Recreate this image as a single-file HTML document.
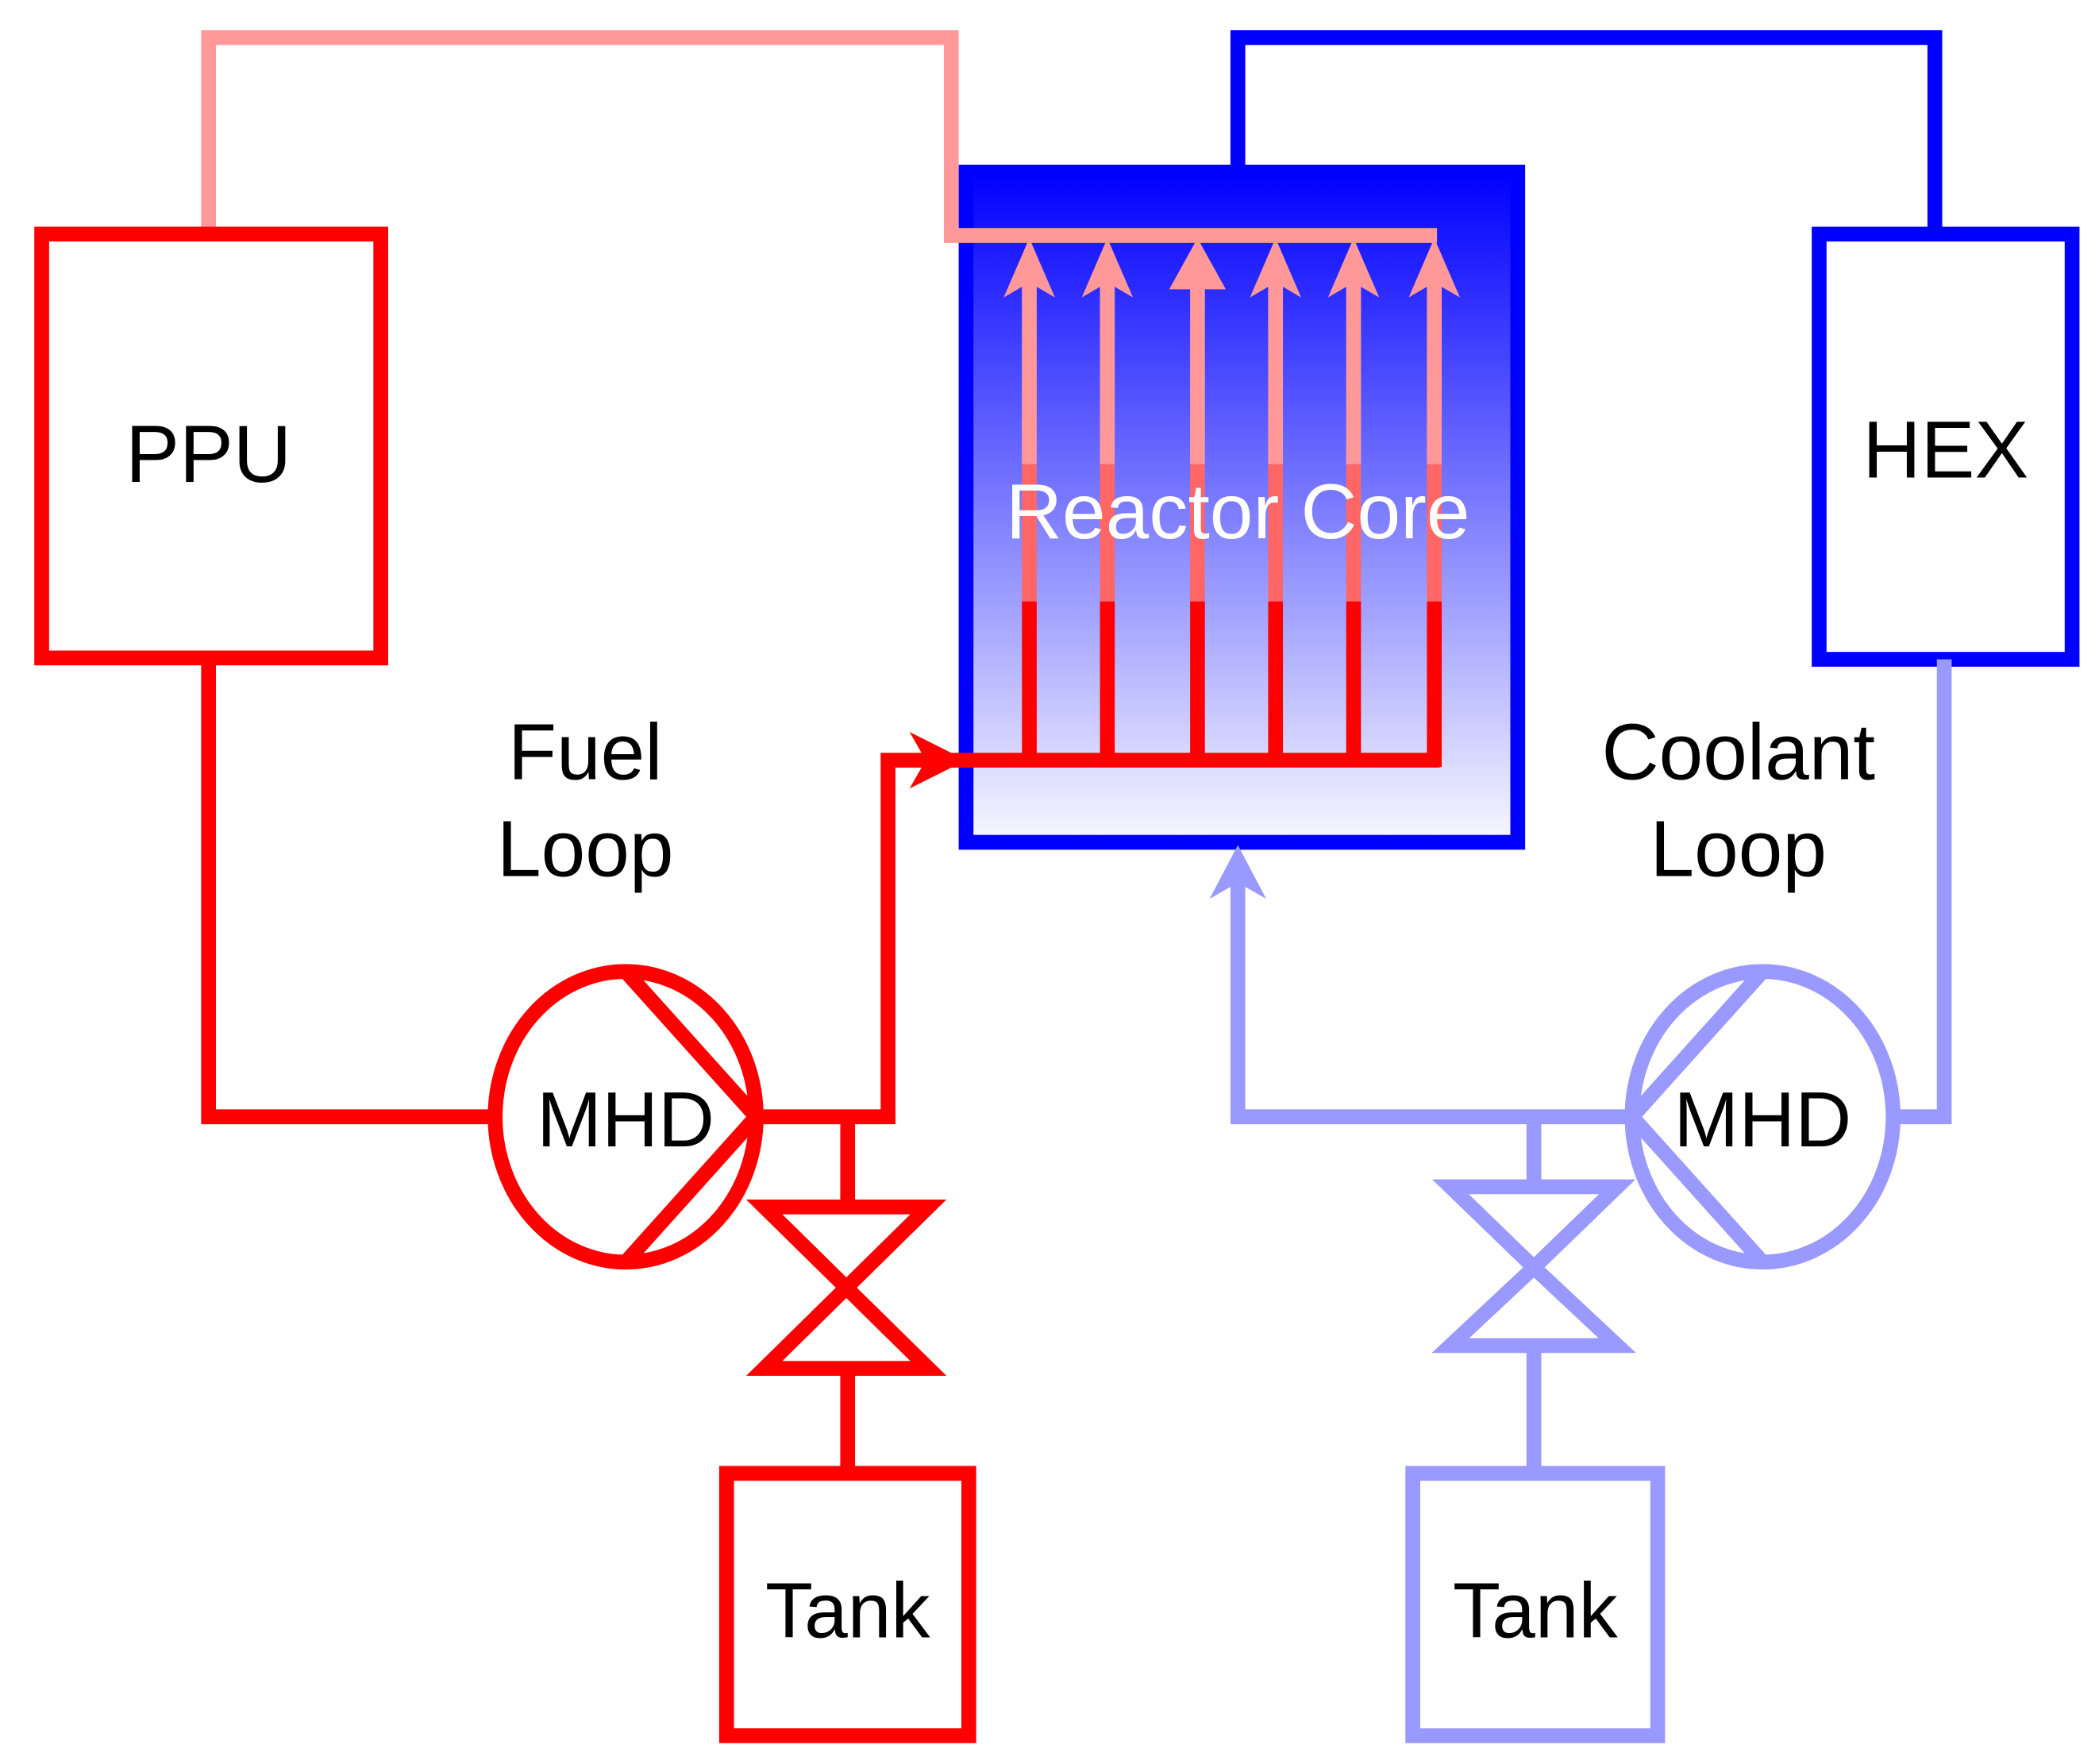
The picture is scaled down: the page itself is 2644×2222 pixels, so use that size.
<!DOCTYPE html>
<html><head><meta charset="utf-8"><style>html,body{margin:0;padding:0;background:#fff}svg{display:block}</style></head>
<body>
<svg width="2644" height="2222" viewBox="0 0 1560 1311" preserveAspectRatio="none" xmlns="http://www.w3.org/2000/svg" font-family="Liberation Sans, sans-serif">
<defs>
<linearGradient id="g" x1="0" y1="0" x2="0" y2="1">
<stop offset="0" stop-color="#0000ff"/><stop offset="1" stop-color="#f8f8ff"/>
</linearGradient>
</defs>
<rect width="1560" height="1311" fill="#fff"/>
<rect x="718" y="128" width="410" height="498" fill="url(#g)" stroke="#0000ff" stroke-width="11"/>
<polyline points="920,128 920,28 1438,28 1438,174" fill="none" stroke="#0000ff" stroke-width="11"/>
<polyline points="155,174 155,28 707,28 707,175 1068,175" fill="none" stroke="#ff9999" stroke-width="11"/>
<rect x="31" y="174" width="252" height="315" fill="#fff" stroke="#ff0000" stroke-width="11"/>
<text x="155" y="358" font-size="60" text-anchor="middle">PPU</text>
<rect x="1352" y="174" width="188" height="316" fill="#fff" stroke="#0000ff" stroke-width="11"/>
<text x="1446" y="355" font-size="60" text-anchor="middle">HEX</text>
<g stroke-width="11">
<g stroke="#ff9999">
<line x1="765" y1="205" x2="765" y2="345"/><line x1="823" y1="205" x2="823" y2="345"/><line x1="890" y1="205" x2="890" y2="345"/><line x1="948" y1="205" x2="948" y2="345"/><line x1="1006" y1="205" x2="1006" y2="345"/><line x1="1066" y1="205" x2="1066" y2="345"/>
</g>
<g stroke="#ff6666">
<line x1="765" y1="345" x2="765" y2="447"/><line x1="823" y1="345" x2="823" y2="447"/><line x1="890" y1="345" x2="890" y2="447"/><line x1="948" y1="345" x2="948" y2="447"/><line x1="1006" y1="345" x2="1006" y2="447"/><line x1="1066" y1="345" x2="1066" y2="447"/>
</g>
<g stroke="#ff0000">
<line x1="765" y1="447" x2="765" y2="565"/><line x1="823" y1="447" x2="823" y2="565"/><line x1="890" y1="447" x2="890" y2="565"/><line x1="948" y1="447" x2="948" y2="565"/><line x1="1006" y1="447" x2="1006" y2="565"/><line x1="1066" y1="447" x2="1066" y2="570"/>
</g>
</g>
<g fill="#ff9999">
<polygon points="765,177 746,221 765,210 784,221"/><polygon points="823,177 804,221 823,210 842,221"/><polygon points="890,177 869,215 911,215"/><polygon points="948,177 929,221 948,210 967,221"/><polygon points="1006,177 987,221 1006,210 1025,221"/><polygon points="1066,177 1047,221 1066,210 1085,221"/>
</g>
<text x="920" y="400" font-size="58" fill="#fff" text-anchor="middle">Reactor Core</text>
<polyline points="562,830 660,830 660,565 1070,565" fill="none" stroke="#ff0000" stroke-width="11"/>
<polygon points="718,565 676,544 688,565 676,586" fill="#ff0000"/>
<polyline points="155,489 155,830 368,830" fill="none" stroke="#ff0000" stroke-width="11"/>
<ellipse cx="465" cy="830" rx="97" ry="108" fill="#fff" stroke="#ff0000" stroke-width="11"/>
<polyline points="465,722 562,830 465,938" fill="none" stroke="#ff0000" stroke-width="11"/>
<text x="465" y="852" font-size="58" text-anchor="middle">MHD</text>
<line x1="630" y1="830" x2="630" y2="895" stroke="#ff0000" stroke-width="11"/>
<polygon points="568,897 690,897 629,957 568,1017 690,1017 629,957" fill="none" stroke="#ff0000" stroke-width="11"/>
<line x1="630" y1="1017" x2="630" y2="1095" stroke="#ff0000" stroke-width="11"/>
<rect x="540" y="1095" width="180" height="195" fill="#fff" stroke="#ff0000" stroke-width="11"/>
<text x="630" y="1217" font-size="58" text-anchor="middle">Tank</text>
<text x="435" y="579" font-size="59" text-anchor="middle">Fuel</text>
<text x="435" y="651" font-size="59" text-anchor="middle">Loop</text>
<polyline points="1445,490 1445,830 1410,830" fill="none" stroke="#9999ff" stroke-width="11"/>
<polyline points="1213,830 920,830 920,650" fill="none" stroke="#9999ff" stroke-width="11"/>
<polygon points="920,628 899,668 920,656 941,668" fill="#9999ff"/>
<ellipse cx="1310" cy="830" rx="97" ry="108" fill="#fff" stroke="#9999ff" stroke-width="11"/>
<polyline points="1310,722 1213,830 1310,938" fill="none" stroke="#9999ff" stroke-width="11"/>
<text x="1310" y="852" font-size="58" text-anchor="middle">MHD</text>
<line x1="1140" y1="830" x2="1140" y2="882" stroke="#9999ff" stroke-width="11"/>
<polygon points="1078,882 1202,882 1140,942 1078,1000 1202,1000 1140,942" fill="none" stroke="#9999ff" stroke-width="11"/>
<line x1="1140" y1="1000" x2="1140" y2="1095" stroke="#9999ff" stroke-width="11"/>
<rect x="1050" y="1095" width="182" height="195" fill="#fff" stroke="#9999ff" stroke-width="11"/>
<text x="1141" y="1217" font-size="58" text-anchor="middle">Tank</text>
<text x="1292" y="579" font-size="59" text-anchor="middle">Coolant</text>
<text x="1292" y="651" font-size="59" text-anchor="middle">Loop</text>
</svg>
</body></html>
